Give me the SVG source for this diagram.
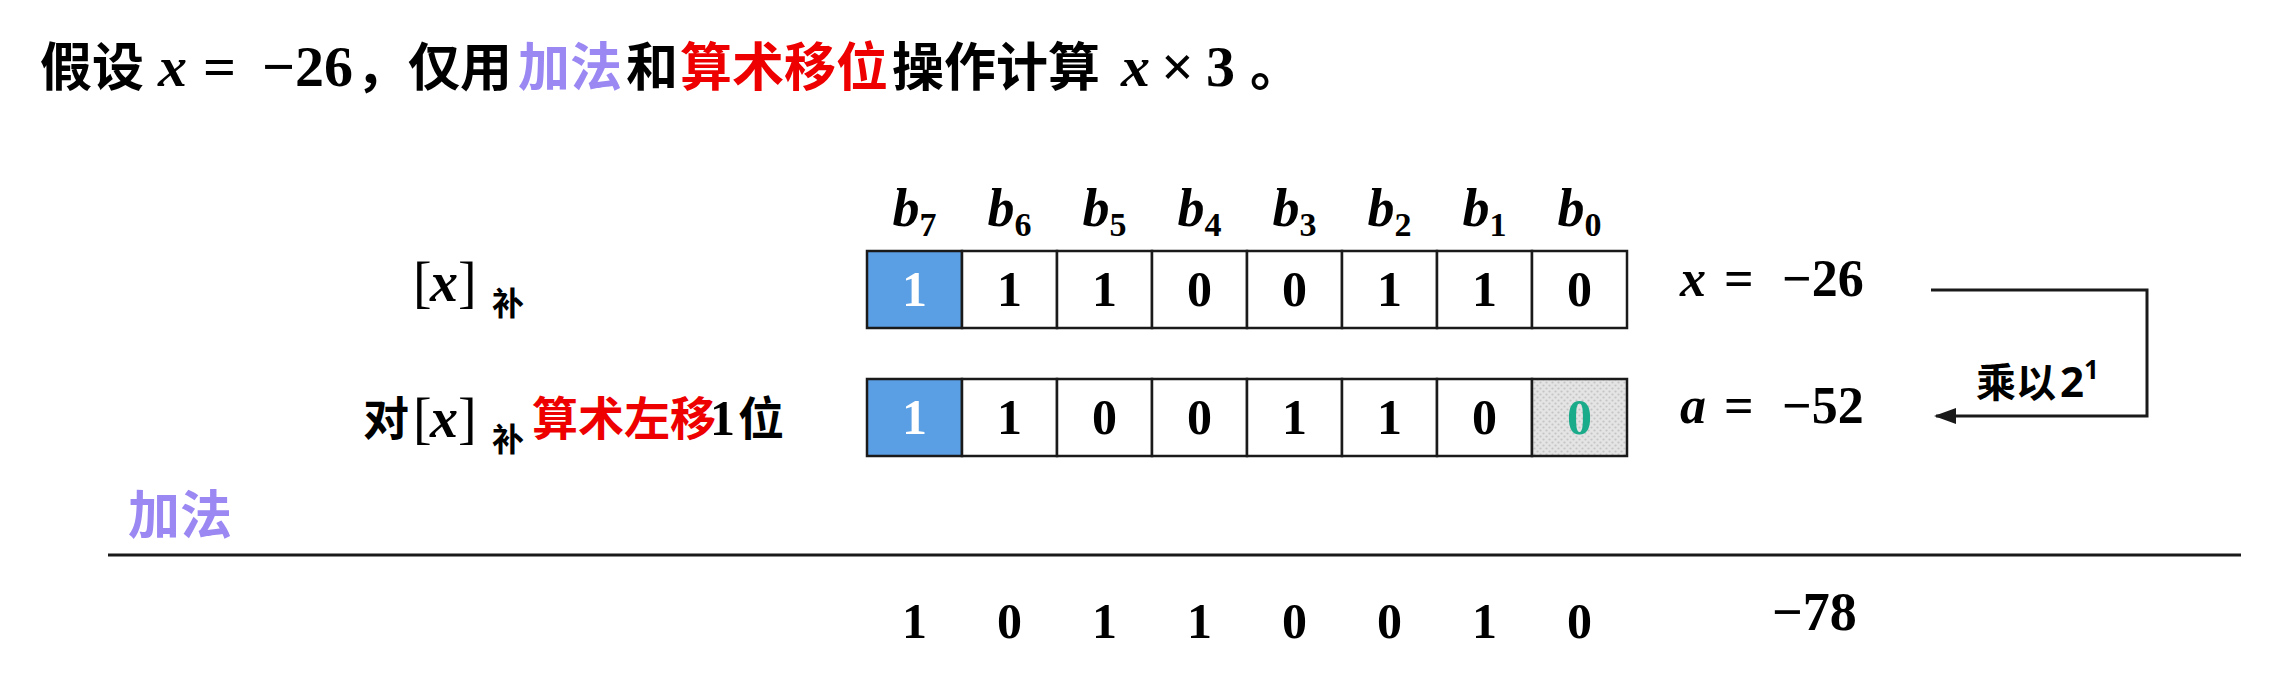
<svg xmlns="http://www.w3.org/2000/svg" width="2289" height="680" viewBox="0 0 2289 680">
<style>
.cjk{font-family:"Noto Sans CJK SC","Noto Sans",sans-serif;font-weight:700}
.m{font-family:"Liberation Serif",serif;font-weight:700;font-style:italic}
.d{font-family:"Liberation Serif",serif;font-weight:700}
.br{font-family:"Liberation Serif",serif;font-weight:400}
.cell{fill:#ffffff;stroke:#1a1a1a;stroke-width:2.5}
.blue{fill:#5a9fe4;stroke:#1a1a1a;stroke-width:2.5}
.hatch{fill:url(#dots);stroke:#1a1a1a;stroke-width:2.5}
.bit{font-family:"Liberation Serif",serif;font-weight:700;font-size:50px;text-anchor:middle}
.lbl{font-family:"Liberation Serif",serif;font-weight:700;font-style:italic;font-size:54px;text-anchor:middle}
.sub{font-style:normal;font-size:34px}
.purple{fill:#9b88f2}
.red{fill:#ee0000}
.conn{fill:none;stroke:#1a1a1a;stroke-width:3}
</style>
<defs>
<pattern id="dots" width="6" height="6" patternUnits="userSpaceOnUse">
<rect width="6" height="6" fill="#e4e4e4"/>
<circle cx="1.5" cy="1.5" r="1.1" fill="#c4c4c4"/>
<circle cx="4.5" cy="4.5" r="1.1" fill="#c4c4c4"/>
</pattern>
<marker id="arr" markerWidth="22" markerHeight="16" refX="20" refY="8" orient="auto" markerUnits="userSpaceOnUse">
<path d="M0,0 L22,8 L0,16 Z" fill="#1a1a1a"/>
</marker>
</defs>
<rect width="2289" height="680" fill="#ffffff"/>

<g id="title">
<text y="86" font-size="52"><tspan class="cjk" x="40">假设</tspan><tspan class="m" x="158" font-size="58">x</tspan><tspan class="d" x="203" font-size="58">=</tspan><tspan class="d" x="262" font-size="58">−26</tspan><tspan class="cjk" x="356">，仅用</tspan><tspan class="cjk purple" x="518">加法</tspan><tspan class="cjk" x="626">和</tspan><tspan class="cjk red" x="680">算术移位</tspan><tspan class="cjk" x="892">操作计算</tspan><tspan class="m" x="1121" font-size="58">x</tspan><tspan class="d" x="1161" font-size="58">×</tspan><tspan class="d" x="1206" font-size="58">3</tspan><tspan class="cjk" x="1250">。</tspan></text>
</g>

<g id="bit-labels">
<text class="lbl" x="914.5" y="226">b<tspan class="sub" dy="10">7</tspan></text>
<text class="lbl" x="1009.5" y="226">b<tspan class="sub" dy="10">6</tspan></text>
<text class="lbl" x="1104.5" y="226">b<tspan class="sub" dy="10">5</tspan></text>
<text class="lbl" x="1199.5" y="226">b<tspan class="sub" dy="10">4</tspan></text>
<text class="lbl" x="1294.5" y="226">b<tspan class="sub" dy="10">3</tspan></text>
<text class="lbl" x="1389.5" y="226">b<tspan class="sub" dy="10">2</tspan></text>
<text class="lbl" x="1484.5" y="226">b<tspan class="sub" dy="10">1</tspan></text>
<text class="lbl" x="1579.5" y="226">b<tspan class="sub" dy="10">0</tspan></text>
</g>

<g id="label-x">
<text y="301" font-size="56"><tspan class="br" x="413">[</tspan><tspan class="m" x="430">x</tspan><tspan class="br" x="458">]</tspan></text>
<text class="cjk" x="492" y="315" font-size="32">补</text>
</g>

<g id="label-shift">
<text class="cjk" x="363" y="435" font-size="46">对</text>
<text y="437" font-size="56"><tspan class="br" x="413">[</tspan><tspan class="m" x="430">x</tspan><tspan class="br" x="458">]</tspan></text>
<text class="cjk" x="492" y="451" font-size="32">补</text>
<text y="435" font-size="46"><tspan class="cjk red" x="532">算术左移</tspan><tspan class="d" x="710" font-size="50">1</tspan><tspan class="cjk" x="738">位</tspan></text>
</g>

<g id="row-x">
<rect class="blue" x="867" y="251" width="95" height="77"/>
<rect class="cell" x="962" y="251" width="95" height="77"/>
<rect class="cell" x="1057" y="251" width="95" height="77"/>
<rect class="cell" x="1152" y="251" width="95" height="77"/>
<rect class="cell" x="1247" y="251" width="95" height="77"/>
<rect class="cell" x="1342" y="251" width="95" height="77"/>
<rect class="cell" x="1437" y="251" width="95" height="77"/>
<rect class="cell" x="1532" y="251" width="95" height="77"/>
<text class="bit" x="914.5" y="306" fill="#ffffff">1</text>
<text class="bit" x="1009.5" y="306">1</text>
<text class="bit" x="1104.5" y="306">1</text>
<text class="bit" x="1199.5" y="306">0</text>
<text class="bit" x="1294.5" y="306">0</text>
<text class="bit" x="1389.5" y="306">1</text>
<text class="bit" x="1484.5" y="306">1</text>
<text class="bit" x="1579.5" y="306">0</text>
</g>

<g id="row-a">
<rect class="blue" x="867" y="379" width="95" height="77"/>
<rect class="cell" x="962" y="379" width="95" height="77"/>
<rect class="cell" x="1057" y="379" width="95" height="77"/>
<rect class="cell" x="1152" y="379" width="95" height="77"/>
<rect class="cell" x="1247" y="379" width="95" height="77"/>
<rect class="cell" x="1342" y="379" width="95" height="77"/>
<rect class="cell" x="1437" y="379" width="95" height="77"/>
<rect class="hatch" x="1532" y="379" width="95" height="77"/>
<text class="bit" x="914.5" y="434" fill="#ffffff">1</text>
<text class="bit" x="1009.5" y="434">1</text>
<text class="bit" x="1104.5" y="434">0</text>
<text class="bit" x="1199.5" y="434">0</text>
<text class="bit" x="1294.5" y="434">1</text>
<text class="bit" x="1389.5" y="434">1</text>
<text class="bit" x="1484.5" y="434">0</text>
<text class="bit" x="1579.5" y="434" fill="#1aab8a">0</text>
</g>

<g id="value-x">
<text y="296" font-size="52"><tspan class="m" x="1680">x</tspan><tspan class="d" x="1724">=</tspan><tspan class="d" x="1782">−26</tspan></text>
</g>
<g id="value-a">
<text y="423" font-size="52"><tspan class="m" x="1680">a</tspan><tspan class="d" x="1724">=</tspan><tspan class="d" x="1782">−52</tspan></text>
</g>

<g id="connectors">
<path class="conn" d="M1931,290 L2147,290 L2147,416 L1936,416" marker-end="url(#arr)"/>
<text y="397" font-size="40"><tspan class="cjk" x="1976">乘以</tspan><tspan font-family="Noto Sans, sans-serif" font-weight="700" font-size="42" x="2060">2</tspan><tspan font-family="Noto Sans, sans-serif" font-weight="700" font-size="26" dy="-18">1</tspan></text>
</g>

<g id="addition">
<text class="cjk purple" x="128" y="534" font-size="52">加法</text>
<line x1="108" y1="555" x2="2241" y2="555" stroke="#1a1a1a" stroke-width="3"/>
<text class="bit" x="914.5" y="638">1</text>
<text class="bit" x="1009.5" y="638">0</text>
<text class="bit" x="1104.5" y="638">1</text>
<text class="bit" x="1199.5" y="638">1</text>
<text class="bit" x="1294.5" y="638">0</text>
<text class="bit" x="1389.5" y="638">0</text>
<text class="bit" x="1484.5" y="638">1</text>
<text class="bit" x="1579.5" y="638">0</text>
<text class="d" x="1772" y="630" font-size="54">−78</text>
</g>
</svg>
